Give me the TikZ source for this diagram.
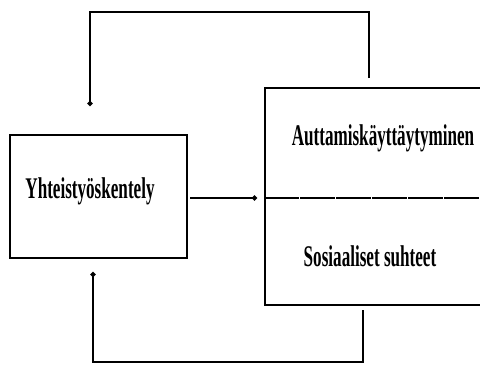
\documentclass[tikz,border=0pt]{standalone}
\usepackage{fontspec}
\setmainfont{Liberation Serif}
\newfontfamily\labfont[FakeStretch=0.57]{Liberation Serif Bold}
\usetikzlibrary{arrows.meta}
\begin{document}
\begin{tikzpicture}[x=1pt,y=-1pt,
  box/.style={draw, line width=1.8pt, inner sep=0pt},
  conn/.style={line width=1.6pt, -{Circle[length=5pt,width=5pt]}},
  lab/.style={font=\labfont\fontsize{30}{32}\selectfont, inner sep=0pt, anchor=base}]
\useasboundingbox (0,0) rectangle (480,367);
\clip (0,0) rectangle (480,367);
\node[box, minimum width=177pt, minimum height=123pt, anchor=north west] (lbox) at (9,134) {};
\node[box, minimum width=240pt, minimum height=217pt, anchor=north west] (rbox) at (264,87) {};
\coordinate (div) at (264,198);
\draw[line width=1.6pt, dash pattern=on 35pt off 1pt] (div) -- (490,198);
\node[lab] (t1) at (90,198) {Yhteistyöskentely};
\node[lab] (t2) at (383,145) {Auttamiskäyttäytyminen};
\node[lab] (t3) at (370,266) {Sosiaaliset suhteet};
\coordinate (a0) at (190,198);
\coordinate (a1) at (257,198);
\draw[conn] (a0) -- (a1);
\coordinate (ts) at (369,78);
\coordinate (te) at (90,106);
\draw[conn] (ts) -- (369,12) -- (90,12) -- (te);
\coordinate (bs) at (363,310);
\coordinate (be) at (93,272);
\draw[conn] (bs) -- (363,362) -- (93,362) -- (be);
\end{tikzpicture}
\end{document}
